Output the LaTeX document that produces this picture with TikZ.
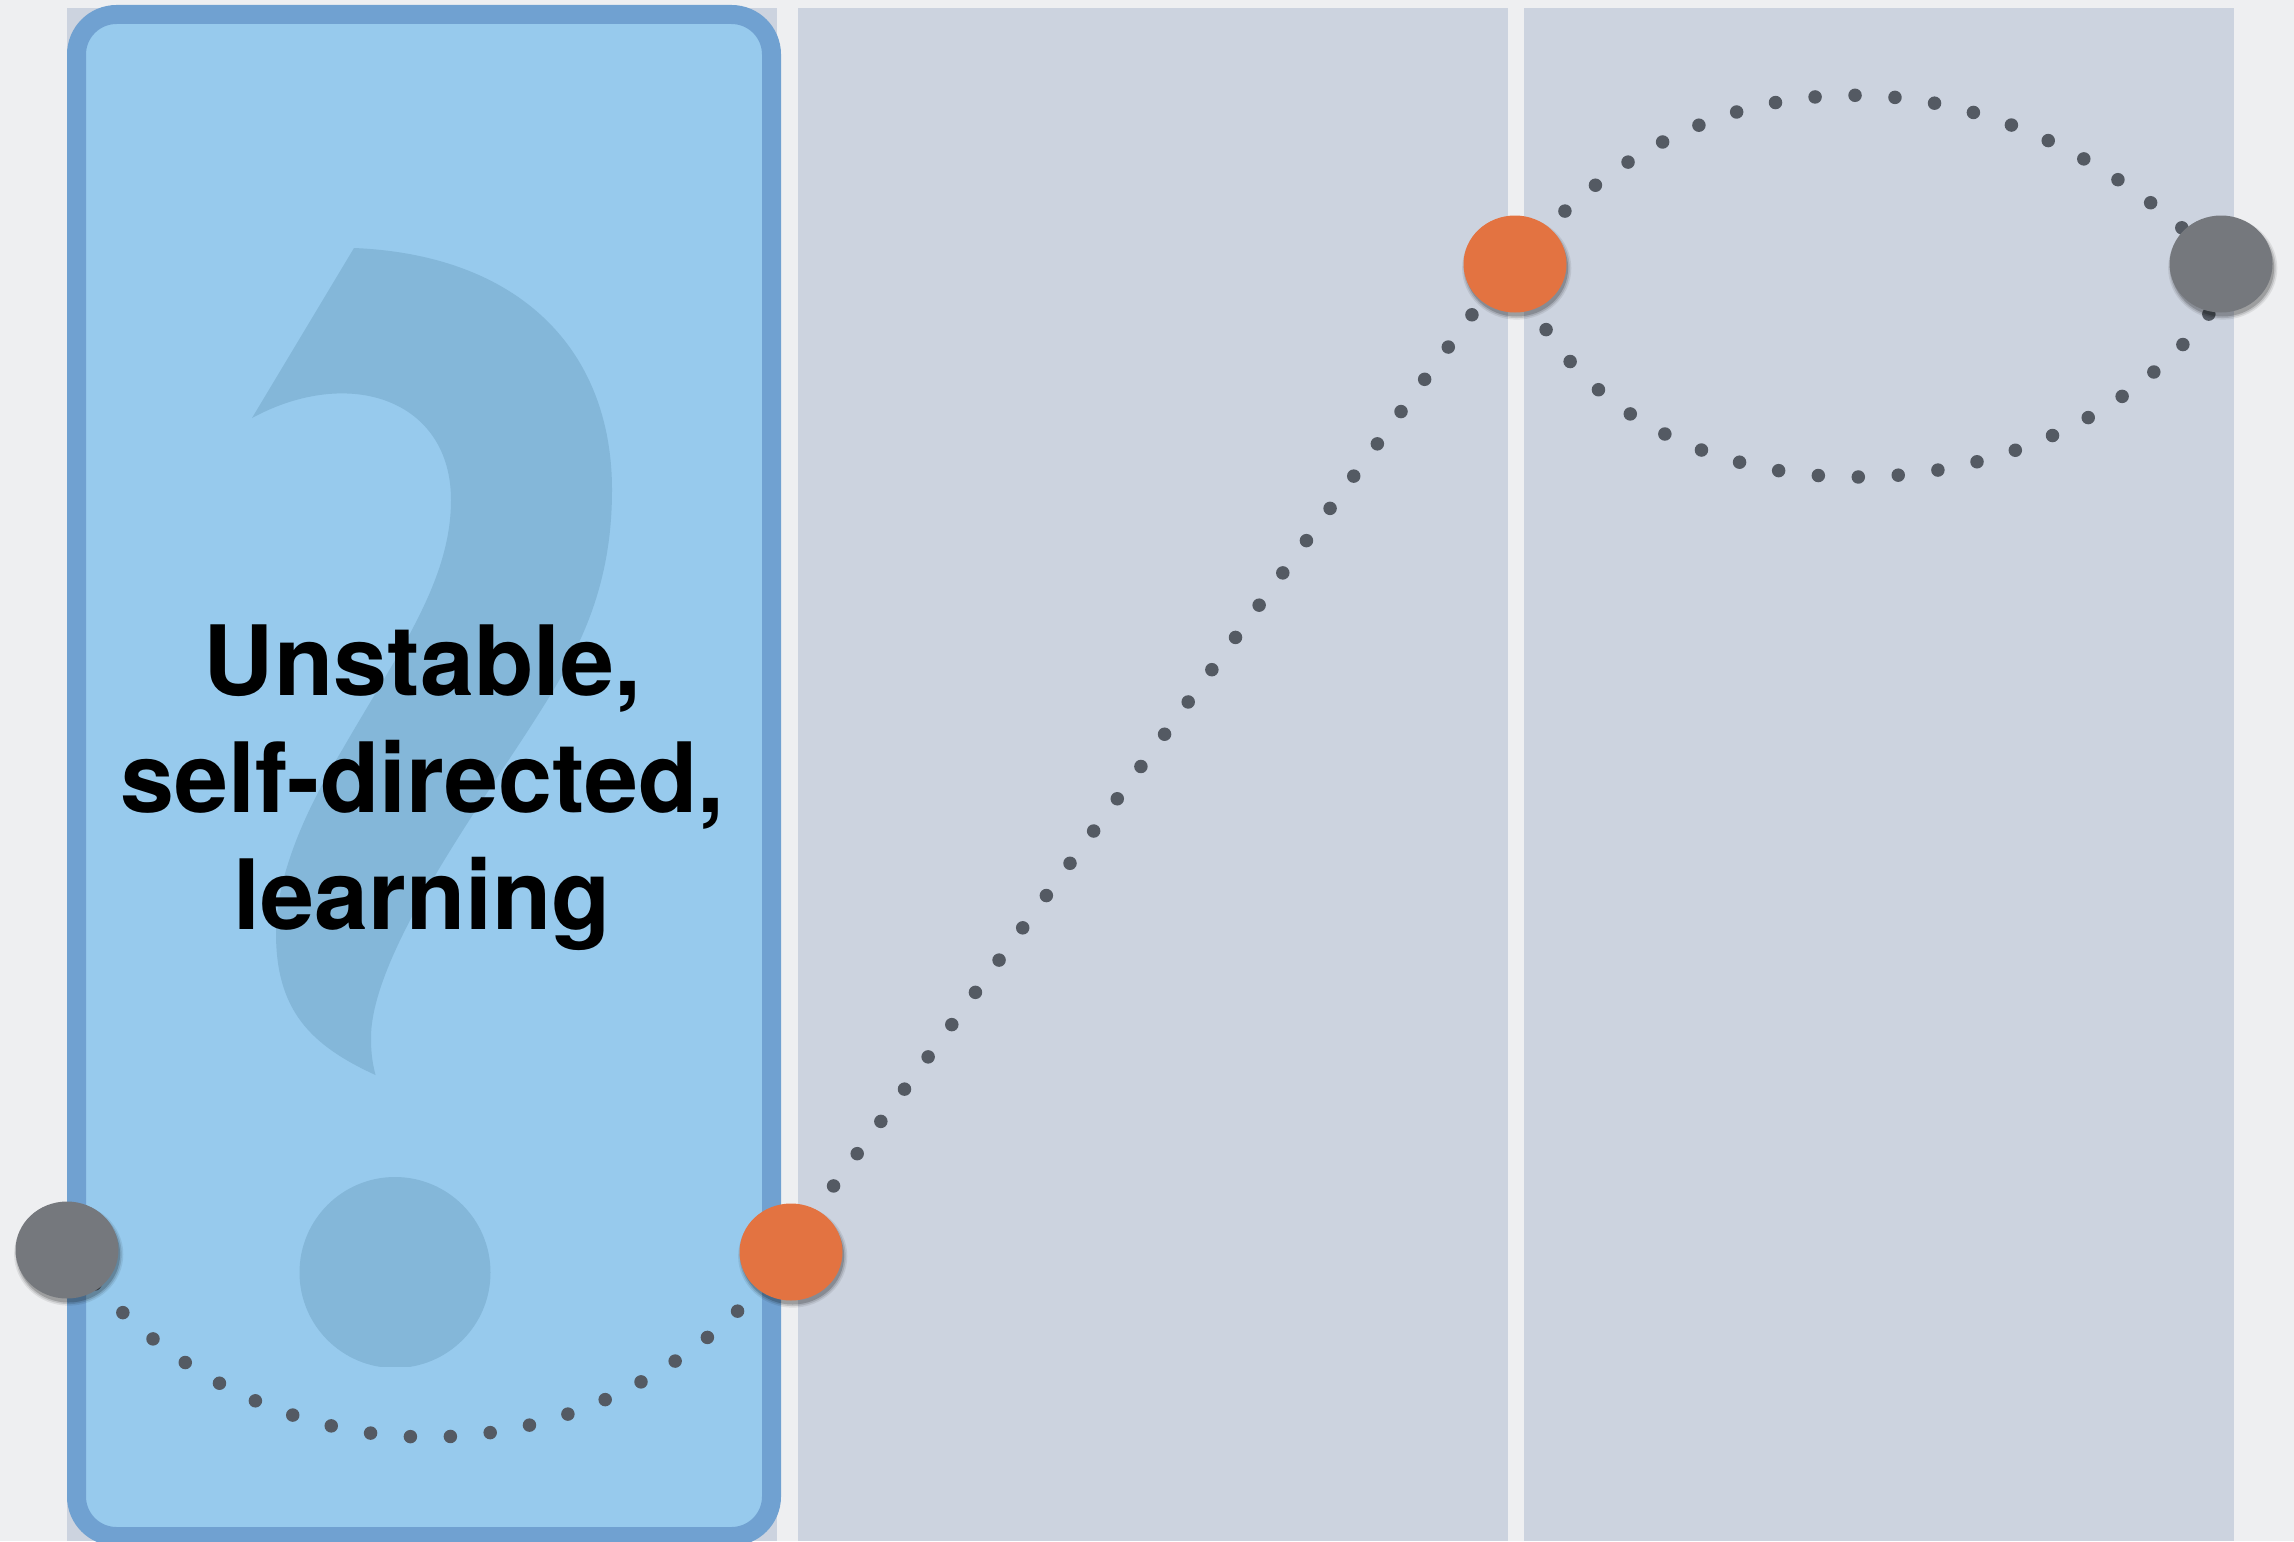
\documentclass[tikz,border=0pt]{standalone}
\usepackage{fontspec}
\usepackage{tikz}
\usetikzlibrary{shapes.geometric,shadows,backgrounds}
\setmainfont{TeX Gyre Heros}
\definecolor{pagegrey}{HTML}{EEEFF1}
\definecolor{panelgrey}{HTML}{CCD3DF}
\definecolor{boxblue}{HTML}{97CAED}
\definecolor{boxline}{HTML}{70A1D1}
\definecolor{markblue}{HTML}{84B7D9}
\definecolor{dotgrey}{HTML}{545A63}
\definecolor{stoporange}{HTML}{E37341}
\definecolor{stopgrey}{HTML}{75787D}

\begin{document}
\begin{tikzpicture}[x=0.5pt, y=-0.5pt,
	stop/.style={ellipse,minimum width=51.5pt,minimum height=48.5pt,inner sep=0pt,
		drop shadow={shadow xshift=.8pt,shadow yshift=-2pt,shadow scale=1.06,opacity=.08,fill=black},
		drop shadow={shadow xshift=.8pt,shadow yshift=-2pt,shadow scale=1.03,opacity=.12,fill=black},
		drop shadow={shadow xshift=.8pt,shadow yshift=-2pt,shadow scale=1,opacity=.18,fill=black}},
	orange/.style={stop,fill=stoporange},
	grey/.style={stop,fill=stopgrey},
	dotline/.style={line width=6.75pt,line cap=round,dotgrey,dash pattern=on 0pt off 20pt}]
		\useasboundingbox (0,0) rectangle (2294,1541);
		\node[grey] (g1) at (67,1250) {};
		\node[orange] (o1) at (791,1252) {};
		\node[orange] (o2) at (1515,264) {};
		\node[grey] (g2) at (2221,264) {};
		\node[font=\fontsize{48.5pt}{58.5pt}\selectfont\bfseries,align=center] (label) at (422.5,788) {Unstable,\\self-directed,\\learning};

		\begin{scope}[on background layer]
			\fill[pagegrey] (0,0) rectangle (2294,1541);
			\fill[panelgrey] (67,8) rectangle (777,1541);
			\fill[panelgrey] (798,8) rectangle (1508,1541);
			\fill[panelgrey] (1524,8) rectangle (2234,1541);
			\draw[boxline,fill=boxblue,line width=9.5pt,rounded corners=20pt] (76.5,14.5) rectangle (771.5,1536.5);
			\fill[markblue] (354,248) .. controls (520,255) and (612,350) .. (612,490)
				.. controls (612,600) and (570,665) .. (529,729)
				.. controls (470,820) and (370,960) .. (371,1039)
				.. controls (371,1055) and (373,1065) .. (375.5,1075)
				.. controls (310,1045) and (276,1010) .. (276,933)
				.. controls (276,850) and (340,755) .. (345,745)
				.. controls (400,650) and (451,580) .. (451,500)
				.. controls (451,400) and (350,365) .. (252,418) -- cycle;
			\begin{scope}
				\clip (290,1170) rectangle (500,1366);
				\fill[markblue] (395,1272.5) circle[radius=95.5];
			\end{scope}
			\draw[dotline,dash phase=18pt] (g1.center) .. controls (255,1499) and (600,1499) .. (o1.center);
			\draw[dotline,dash phase=4pt] ([yshift=4pt]o1.center) -- ([yshift=4pt]o2.center);
			\draw[dotline,dash phase=3.6pt] (o2.center) .. controls (1700,39) and (1995,39) .. (g2.center);
			\draw[dotline,dash phase=3.6pt] (o2.center) .. controls (1607,548) and (2090,548) .. ([xshift=10pt]g2.center);
		\end{scope}
	\end{tikzpicture}
\end{document}
